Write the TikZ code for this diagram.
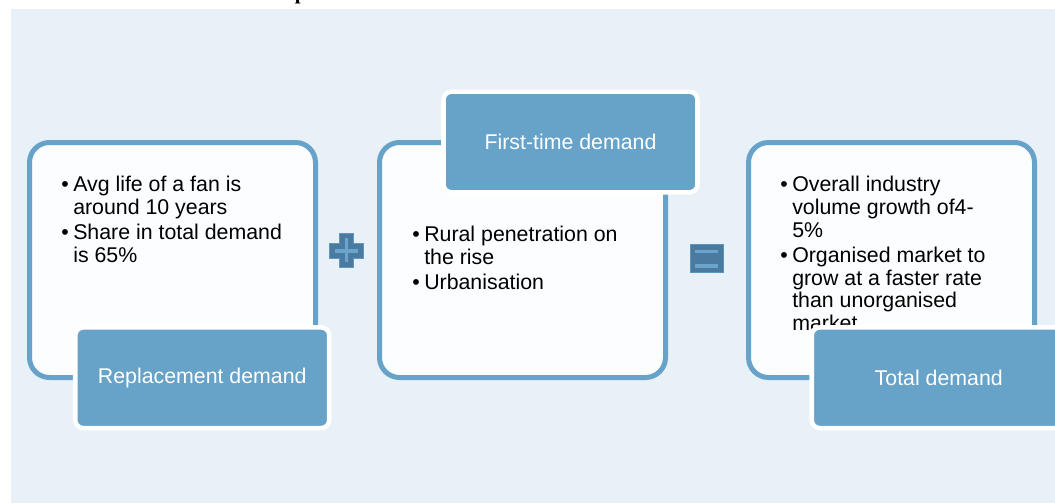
\documentclass[tikz,border=0pt]{standalone}
\usepackage{fontspec}
\setmainfont{Liberation Sans}
\newfontfamily\serifb{Liberation Serif}
\definecolor{bgblue}{HTML}{E8F0F8}
\definecolor{boxfill}{HTML}{FCFDFE}
\definecolor{accent}{HTML}{67A2C9}
\definecolor{darkacc}{HTML}{4B7AA0}
\definecolor{lightacc}{HTML}{6AA3CB}
\newcommand{\bl}{\makebox[9pt][l]{\textbullet}}
\newcommand{\ind}{\hspace*{9pt}}
\tikzset{
  mainbox/.style={draw=accent, fill=boxfill, line width=3.75pt, rounded corners=15pt,
    minimum width=214.5pt, minimum height=176.25pt, inner sep=0pt},
  labelbox/.style={draw=white, fill=accent, line width=3.4pt, rounded corners=6pt,
    minimum width=190.5pt, minimum height=75.5pt, inner sep=0pt, text=white,
    font=\fontsize{16}{17}\selectfont},
  bullettext/.style={anchor=north west, inner sep=0pt, align=left,
    font=\fontsize{16}{17}\selectfont}
}
\begin{document}
\begin{tikzpicture}[x=0.75pt, y=-0.75pt]
\useasboundingbox (0,0) rectangle (1055,503);
\clip (0,0) rectangle (1055,503);
\fill[bgblue] (11,9) rectangle (1055,503);
\node[anchor=base west, inner sep=0pt, font=\serifb\bfseries\fontsize{15.75}{16}\selectfont] (title) at (294.5,-0.5) {p};

% box 1
\node[mainbox] (b1) at (172.5,260) {};
\node[bullettext] (t1) at (61,176) {\bl Avg life of a fan is\\ \ind around 10 years\\[2pt] \bl Share in total demand\\ \ind is 65\%};
\node[labelbox] (l1) at (202.25,377.75) {Replacement demand};

% box 2
\node[mainbox] (b2) at (522.5,260) {};
\node[bullettext] (t2) at (412,226) {\bl Rural penetration on\\ \ind the rise\\[2pt] \bl Urbanisation};
\node[labelbox] (l2) at (570.5,142) {First-time demand};

% box 3
\node[mainbox] (b3) at (891.5,260) {};
\node[bullettext] (t3) at (780,176) {\bl Overall industry\\ \ind volume growth of4-\\ \ind 5\%\\[2pt] \bl Organised market to\\ \ind grow at a faster rate\\ \ind than unorganised\\ \ind market};
\node[labelbox] (l3) at (938.75,377.75) {Total demand};

% plus sign
\fill[darkacc, draw=lightacc!70!darkacc, line width=0.5pt]
  (339,233) -- (353,233) -- (353,243) -- (363.3,243) -- (363.3,258) -- (353,258)
  -- (353,267.7) -- (339,267.7) -- (339,258) -- (329.3,258) -- (329.3,243) -- (339,243) -- cycle;
\fill[lightacc] (344.8,238) rectangle (348.3,262);
\fill[lightacc] (335,249) rectangle (358,252.5);

% equals sign
\fill[darkacc, draw=lightacc!60!darkacc, line width=0.5pt] (690,244.3) rectangle (723,272.7);
\fill[lightacc] (695,250) rectangle (718,253.4);
\fill[lightacc] (695,264) rectangle (718,267.6);
\end{tikzpicture}
\end{document}
